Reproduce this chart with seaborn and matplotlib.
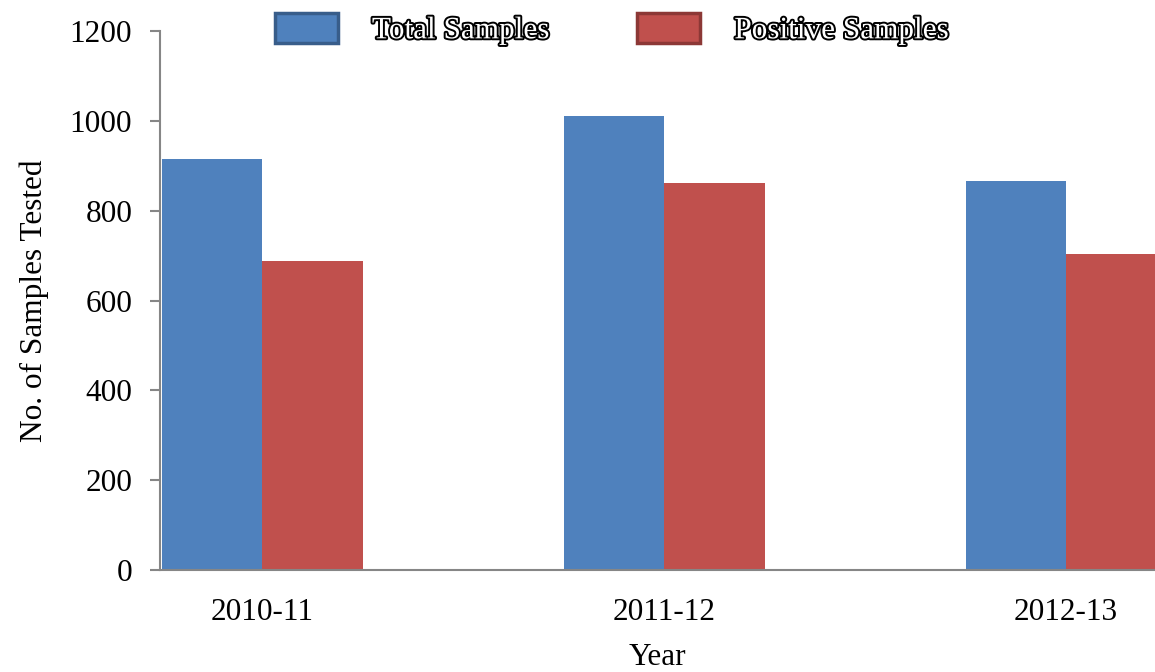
"""
Bar chart: total vs positive samples per year.
"""
import matplotlib
matplotlib.use("Agg")
from matplotlib import pyplot
from matplotlib import patheffects
from matplotlib.patches import Patch
import seaborn
import pandas as pd

years = ["2010-11", "2011-12", "2012-13"]
total_samples = [915, 1011, 866]
positive_samples = [688, 862, 704]
series_names = ["Total Samples", "Positive Samples"]
colors = ["#4F81BD", "#C0504D"]
edge_colors = ["#385D8A", "#8C3836"]
y_ticks = [0, 200, 400, 600, 800, 1000, 1200]


def main():
    df = pd.DataFrame({
        "Year": years * 2,
        "Samples": total_samples + positive_samples,
        "Series": [series_names[0]] * len(years) + [series_names[1]] * len(years),
    })

    seaborn.set_style("white")
    pyplot.rcParams["font.family"] = ["Liberation Serif", "DejaVu Serif"]
    pyplot.rcParams["text.color"] = "black"
    pyplot.rcParams["axes.labelcolor"] = "black"

    fig = pyplot.figure(figsize=(11.55, 6.72), dpi=100)
    ax = fig.add_axes([160 / 1155, 1 - 570 / 672, 1 - 160 / 1155, (570 - 31) / 672])

    seaborn.barplot(
        data=df, x="Year", y="Samples", hue="Series", palette=colors,
        width=0.5, saturation=1, errorbar=None, linewidth=0, ax=ax, legend=False,
    )

    ax.set_xlim(-0.254, 2.221)
    ax.set_ylim(0, 1200)
    ax.set_yticks(y_ticks)
    ax.set_ylabel("No. of Samples Tested", fontsize=22.5, labelpad=15)
    ax.set_xlabel("Year", fontsize=22.5, labelpad=12)

    for side in ["top", "right"]:
        ax.spines[side].set_visible(False)
    for side in ["left", "bottom"]:
        ax.spines[side].set_color("#868686")
        ax.spines[side].set_linewidth(1.5)

    ax.tick_params(axis="y", labelsize=22.5, length=7, width=1.5, color="#868686",
                   labelcolor="black", direction="out", left=True, pad=13)
    ax.tick_params(axis="x", labelsize=22.5, length=0, pad=20, labelcolor="black")

    handles = [Patch(facecolor=c, edgecolor=e, linewidth=2.5, label=n)
               for c, e, n in zip(colors, edge_colors, series_names)]
    leg = fig.legend(handles=handles, loc="center", ncol=2, frameon=False,
                     bbox_to_anchor=(612 / 1155, 1 - 29 / 672),
                     fontsize=22.5, handlelength=2.0, handleheight=1.1,
                     handletextpad=1.1, columnspacing=2.8)
    for t in leg.get_texts():
        t.set_color("white")
        t.set_path_effects([patheffects.withStroke(linewidth=2.8, foreground="black")])

    plotfn = "out.png"
    print("Saving plot to file:", plotfn)
    fig.savefig(plotfn, dpi=100)


if __name__ == "__main__":
    main()
